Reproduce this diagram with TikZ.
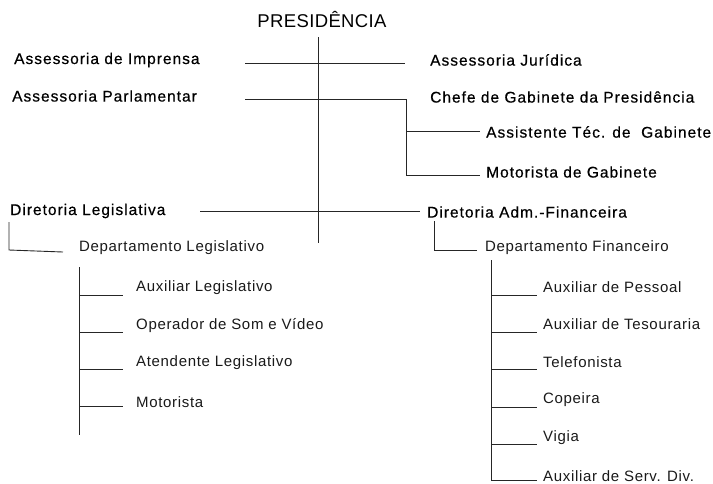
\documentclass[tikz,border=0pt]{standalone}
\usepackage{fontspec}
\setmainfont{Liberation Sans}
\newfontfamily\topfont{Liberation Sans}[LetterSpace=6.5,FakeBold=0.5]
\newfontfamily\lowfont{Liberation Sans}[LetterSpace=4.5]
\newfontfamily\titlefont{Liberation Sans}[LetterSpace=2]
\begin{document}
\begin{tikzpicture}[x=1pt,y=-1pt,
  ln/.style={line width=0.9pt,black!85},
  topt/.style={anchor=west,inner sep=0pt,font=\topfont\fontsize{15.5}{17}\selectfont},
  lowt/.style={anchor=west,inner sep=0pt,font=\lowfont\fontsize{15}{17}\selectfont,black!90},
  ttl/.style={inner sep=0pt,font=\titlefont\fontsize{18.5}{20}\selectfont}]
\useasboundingbox (0,0) rectangle (713,483);
% title
\node[ttl] (pres) at (322,20) {PRESIDÊNCIA};
% top texts
\node[topt] (ai) at (14,60) {Assessoria de Imprensa};
\node[topt] (ap) at (12,96) {Assessoria Parlamentar};
\node[topt] (aj) at (430,60) {Assessoria Jurídica};
\node[topt] (cg) at (430,97) {Chefe de Gabinete da Presidência};
\node[topt] (at) at (486,132) {Assistente Téc. de\ \ Gabinete};
\node[topt] (mg) at (486,172) {Motorista de Gabinete};
\node[topt] (dl) at (10,211) {Diretoria Legislativa};
\node[topt] (df) at (427,212) {Diretoria Adm.-Financeira};
% departments
\node[lowt] (dpl) at (79,248) {Departamento Legislativo};
\node[lowt] (dpf) at (485,248) {Departamento Financeiro};
% legislative
\node[lowt] (l1) at (136,288) {Auxiliar Legislativo};
\node[lowt] (l2) at (136,326) {Operador de Som e Vídeo};
\node[lowt] (l3) at (136,363) {Atendente Legislativo};
\node[lowt] (l4) at (136,402) {Motorista};
% financial
\node[lowt] (f1) at (543,287) {Auxiliar de Pessoal};
\node[lowt] (f2) at (543,324) {Auxiliar de Tesouraria};
\node[lowt] (f3) at (543,362) {Telefonista};
\node[lowt] (f4) at (543,400) {Copeira};
\node[lowt] (f5) at (543,438) {Vigia};
\node[lowt] (f6) at (543,476) {Auxiliar de Serv. Div.};
% coordinates
\coordinate (vt) at (318,37);
\coordinate (vb) at (318,243);
\coordinate (h1a) at (245,63); \coordinate (h1b) at (405,63);
\coordinate (h2a) at (245,99); \coordinate (h2b) at (406,99);
\coordinate (g1) at (406,131); \coordinate (g1e) at (480,131);
\coordinate (g2) at (406,175); \coordinate (g2e) at (480,175);
\coordinate (h3a) at (200,211); \coordinate (h3b) at (420,211);
\coordinate (dla) at (9,222); \coordinate (dlb) at (9,250); \coordinate (dlc) at (63,252);
\coordinate (dfa) at (434,221); \coordinate (dfb) at (434,250); \coordinate (dfc) at (477,250);
\coordinate (lv1) at (79,267); \coordinate (lv2) at (79,435);
\coordinate (fv1) at (491,260); \coordinate (fv2) at (491,480);
% lines
\draw[ln] (vt) -- (vb);
\draw[ln] (h1a) -- (h1b);
\draw[ln] (h2a) -- (h2b) -- (g2) -- (g2e);
\draw[ln] (g1) -- (g1e);
\draw[ln] (h3a) -- (h3b);
\draw[ln] (dla) -- (dlb) -- (dlc);
\draw[ln] (dfa) -- (dfb) -- (dfc);
\draw[ln] (lv1) -- (lv2);
\foreach \y in {295,332,369,406} \draw[ln] (79,\y) -- (123,\y);
\draw[ln] (fv1) -- (fv2) -- (537,480);
\foreach \y in {295,332,369,407,444} \draw[ln] (491,\y) -- (537,\y);
\end{tikzpicture}
\end{document}
